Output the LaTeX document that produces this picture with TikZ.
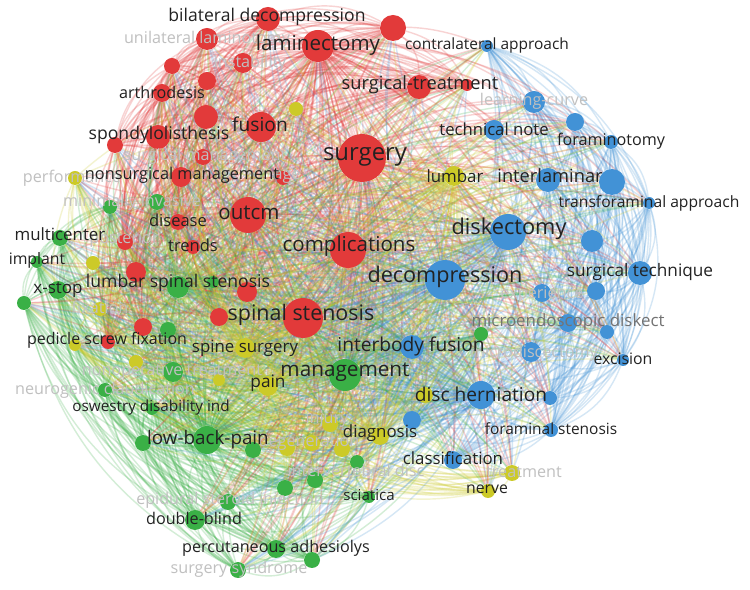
\documentclass[tikz,border=0pt]{standalone}
\usepackage{fontspec}
\newfontfamily\vosfont{Open Sans}
\usetikzlibrary{backgrounds,calc}
\definecolor{vosRed}{RGB}{226,58,58}
\definecolor{vosBlue}{RGB}{66,146,214}
\definecolor{vosGreen}{RGB}{58,176,70}
\definecolor{vosYellow}{RGB}{204,202,40}
\definecolor{vosText}{RGB}{34,34,34}
\definecolor{vosFaint}{RGB}{192,192,192}
\definecolor{vosMid}{RGB}{115,115,115}
\tikzset{
    dot/.style={circle, inner sep=0pt, draw=none},
    rdot/.style={dot, fill=vosRed, minimum size=#1*0.4mm},
    bdot/.style={dot, fill=vosBlue, minimum size=#1*0.4mm},
    gdot/.style={dot, fill=vosGreen, minimum size=#1*0.4mm},
    ydot/.style={dot, fill=vosYellow, minimum size=#1*0.4mm},
    kw/.style={font=\vosfont\fontsize{#1pt}{#1pt}\selectfont, text=vosText, inner sep=0pt},
    kw/.default=9.4,
    faint/.style={kw=#1, text=vosFaint},
    faint/.default=9.2,
    link/.style={line width=0.8pt, opacity=0.22},
    rlink/.style={link, draw=vosRed},
    blink/.style={link, draw=vosBlue},
    glink/.style={link, draw=vosGreen},
    ylink/.style={link, draw=vosYellow}
}
% curved link inside a cluster, bulging away from the map centre
\newcommand\vlink[3]{%
  \draw[#1] let \p1=(#2.center), \p2=(#3.center), \p3=(ctr),
    \n1={ifthenelse(((\x1-\x3)/100)*((\y2-\y3)/100)-((\y1-\y3)/100)*((\x2-\x3)/100)>0,-24,24)}
    in (#2) to[bend left=\n1] (#3);}
% curved link between clusters
\newcommand\xlink[3]{\draw[#1] (#2) to[bend left=20] (#3);}
% keyword clusters
\newcommand\redset{surgery,laminectomy,bilatdec,unilat,r1,instab,r2,arthrodesis,r3,fusion,spondylo,r4,surgmgmt,nonsurg,age,r5,surgtreat,r6,outcm,disease,posterior,trends,complications,r7,r8,spinalstenosis,r9,r10,pedicle}
\newcommand\blueset{diskectomy,decompression,contralat,learning,b1,technote,foraminotomy,interlaminar,b2,transforaminal,b3,surgtech,b4,experience,microendo,b5,interbody,microdisc,excision,discherniation,b6,b7,foraminal,classification}
\newcommand\greenset{management,minimally,g1,multicenter,implant,lss,g2,xstop,g3,g4,nonop,neurogenic,oswestry,lbp,g5,g6,intervert,g8,g9,sciatica,epidural,doubleblind,percutaneous,g10,surgsyn,g11}
\newcommand\yellowset{lumbar,y1,performance,y2,fixation,y3,spinesurgery,y4,y5,pain,injury,y6,degeneration,y7,diagnosis,y8,treatment,nerve}
\begin{document}
\begin{tikzpicture}[x=0.02cm, y=-0.02cm]
  \useasboundingbox (0,0) rectangle (750,590);
  \coordinate (ctr) at (370,290);

  % Red cluster
  \node[rdot=24] (surgery) at (362,158) {};
  \node[rdot=16] (laminectomy) at (318,46) {};
  \node[rdot=12] (bilatdec) at (268,19) {};
  \node[rdot=11] (unilat) at (207,39) {};
  \node[rdot=8] (r1) at (172,66) {};
  \node[rdot=10] (instab) at (243,63) {};
  \node[rdot=9] (r2) at (207,81) {};
  \node[rdot=9] (arthrodesis) at (162,93) {};
  \node[rdot=12] (r3) at (206,117) {};
  \node[rdot=15] (fusion) at (261,127) {};
  \node[rdot=12] (spondylo) at (158,137) {};
  \node[rdot=8] (r4) at (115,145) {};
  \node[rdot=8] (surgmgmt) at (203,157) {};
  \node[rdot=10] (nonsurg) at (181,177) {};
  \node[rdot=7] (age) at (283,178) {};
  \node[rdot=13] (r5) at (393,28) {};
  \node[rdot=12] (surgtreat) at (419,87) {};
  \node[rdot=6] (r6) at (467,85) {};
  \node[rdot=18] (outcm) at (248,215) {};
  \node[rdot=8] (disease) at (178,222) {};
  \node[rdot=8] (posterior) at (125,242) {};
  \node[rdot=7] (trends) at (193,247) {};
  \node[rdot=18] (complications) at (348,250) {};
  \node[rdot=10] (r7) at (136,272) {};
  \node[rdot=10] (r8) at (247,292) {};
  \node[rdot=20] (spinalstenosis) at (303,318) {};
  \node[rdot=9] (r9) at (219,317) {};
  \node[rdot=9] (r10) at (143,327) {};
  \node[rdot=7] (pedicle) at (108,342) {};

  % Blue cluster
  \node[bdot=18] (diskectomy) at (508,232) {};
  \node[bdot=20] (decompression) at (445,280) {};
  \node[bdot=6] (contralat) at (487,46) {};
  \node[bdot=11] (learning) at (534,102) {};
  \node[bdot=9] (b1) at (575,122) {};
  \node[bdot=10] (technote) at (494,130) {};
  \node[bdot=7] (foraminotomy) at (611,142) {};
  \node[bdot=12] (interlaminar) at (548,180) {};
  \node[bdot=13] (b2) at (612,182) {};
  \node[bdot=6] (transforaminal) at (649,203) {};
  \node[bdot=11] (b3) at (592,241) {};
  \node[bdot=12] (surgtech) at (640,273) {};
  \node[bdot=9] (b4) at (596,291) {};
  \node[bdot=9] (experience) at (542,293) {};
  \node[bdot=9] (microendo) at (568,323) {};
  \node[bdot=7] (b5) at (607,332) {};
  \node[bdot=12] (interbody) at (412,347) {};
  \node[bdot=10] (microdisc) at (531,352) {};
  \node[bdot=6] (excision) at (623,360) {};
  \node[bdot=14] (discherniation) at (481,395) {};
  \node[bdot=7] (b6) at (550,398) {};
  \node[bdot=9] (b7) at (412,420) {};
  \node[bdot=7] (foraminal) at (551,430) {};
  \node[bdot=9] (classification) at (453,460) {};

  % Green cluster
  \node[gdot=16] (management) at (345,375) {};
  \node[gdot=7] (minimally) at (110,207) {};
  \node[gdot=8] (g1) at (157,202) {};
  \node[gdot=8] (multicenter) at (60,238) {};
  \node[gdot=6] (implant) at (37,262) {};
  \node[gdot=11] (lss) at (178,287) {};
  \node[gdot=6] (g2) at (213,282) {};
  \node[gdot=9] (xstop) at (58,290) {};
  \node[gdot=7] (g3) at (24,303) {};
  \node[gdot=8] (g4) at (168,330) {};
  \node[gdot=10] (nonop) at (173,372) {};
  \node[gdot=7] (neurogenic) at (105,390) {};
  \node[gdot=6] (oswestry) at (152,409) {};
  \node[gdot=14] (lbp) at (207,440) {};
  \node[gdot=8] (g5) at (143,443) {};
  \node[gdot=8] (g6) at (253,450) {};
  \node[gdot=7] (intervert) at (357,462) {};
  \node[gdot=8] (g8) at (315,480) {};
  \node[gdot=8] (g9) at (285,488) {};
  \node[gdot=6] (sciatica) at (369,497) {};
  \node[gdot=8] (epidural) at (228,502) {};
  \node[gdot=10] (doubleblind) at (195,520) {};
  \node[gdot=9] (percutaneous) at (276,549) {};
  \node[gdot=8] (g10) at (312,560) {};
  \node[gdot=8] (surgsyn) at (238,570) {};
  \node[gdot=7] (g11) at (481,334) {};

  % Yellow cluster
  \node[ydot=10] (lumbar) at (454,176) {};
  \node[ydot=7] (y1) at (296,109) {};
  \node[ydot=7] (performance) at (75,178) {};
  \node[ydot=7] (y2) at (93,263) {};
  \node[ydot=7] (fixation) at (100,309) {};
  \node[ydot=6] (y3) at (75,345) {};
  \node[ydot=10] (spinesurgery) at (245,348) {};
  \node[ydot=7] (y4) at (136,362) {};
  \node[ydot=6] (y5) at (219,380) {};
  \node[ydot=10] (pain) at (268,386) {};
  \node[ydot=8] (injury) at (330,424) {};
  \node[ydot=8] (y6) at (287,448) {};
  \node[ydot=8] (degeneration) at (312,443) {};
  \node[ydot=8] (y7) at (342,449) {};
  \node[ydot=9] (diagnosis) at (380,436) {};
  \node[ydot=8] (y8) at (425,395) {};
  \node[ydot=8] (treatment) at (512,473) {};
  \node[ydot=7] (nerve) at (488,491) {};

  % Links
  \begin{scope}[on background layer]
    \fill[white] (0,0) rectangle (750,590);
    \foreach \a [count=\i] in \redset {
      \foreach \b [count=\j] in \redset {
        \ifnum\j>\i \vlink{rlink}{\a}{\b} \fi
      }
    }
    \foreach \a [count=\i] in \blueset {
      \foreach \b [count=\j] in \blueset {
        \ifnum\j>\i \vlink{blink}{\a}{\b} \fi
      }
    }
    \foreach \a [count=\i] in \greenset {
      \foreach \b [count=\j] in \greenset {
        \ifnum\j>\i \vlink{glink}{\a}{\b} \fi
      }
    }
    \foreach \a [count=\i] in \yellowset {
      \foreach \b [count=\j] in \yellowset {
        \ifnum\j>\i \vlink{ylink}{\a}{\b} \fi
      }
    }
    \foreach \h in {surgery,spinalstenosis,complications,outcm,laminectomy} {
      \foreach \b in \blueset {\xlink{rlink}{\h}{\b}}
      \foreach \b in \greenset {\xlink{rlink}{\h}{\b}}
      \foreach \b in \yellowset {\xlink{rlink}{\h}{\b}}
    }
    \foreach \h in {decompression,diskectomy,discherniation,interbody} {
      \foreach \b in \redset {\xlink{blink}{\h}{\b}}
      \foreach \b in \greenset {\xlink{blink}{\h}{\b}}
      \foreach \b in \yellowset {\xlink{blink}{\h}{\b}}
    }
    \foreach \h in {management,lbp,lss} {
      \foreach \b in \redset {\xlink{glink}{\h}{\b}}
      \foreach \b in \blueset {\xlink{glink}{\h}{\b}}
      \foreach \b in \yellowset {\xlink{glink}{\h}{\b}}
    }
    \foreach \h in {pain,lumbar,spinesurgery,diagnosis} {
      \foreach \b in \redset {\xlink{ylink}{\h}{\b}}
      \foreach \b in \blueset {\xlink{ylink}{\h}{\b}}
      \foreach \b in \greenset {\xlink{ylink}{\h}{\b}}
    }
  \end{scope}

  % Faint labels
  \node[faint] (unilatT) at (207,39) {unilateral laminotomy};
  \node[faint] (instabT) at (250,63) {instability};
  \node[faint] (surgmgmtT) at (205,156) {surgical management};
  \node[faint] (ageT) at (287,177) {age};
  \node[faint] (performanceT) at (72,178) {performance};
  \node[faint] (minimallyT) at (132,202) {minimally invasive};
  \node[faint] (posteriorT) at (124,240) {posterior};
  \node[faint] (fixationT) at (100,307) {fixation};
  \node[faint] (nonopT) at (172,372) {nonoperative treatment};
  \node[faint] (neurogenicT) at (105,390) {neurogenic claudication};
  \node[faint] (injuryT) at (327,420) {injury};
  \node[faint] (degenerationT) at (309,442) {degeneration};
  \node[faint] (intervertT) at (356,470) {intervertebral disc};
  \node[faint] (epiduralT) at (230,500) {epidural steroid injection};
  \node[faint] (surgsynT) at (239,569) {surgery syndrome};
  \node[faint] (learningT) at (534,101) {learning-curve};
  \node[faint] (experienceT) at (542,295) {experience};
  \node[faint] (microdiscT) at (534,353) {microdiscectomy};
  \node[faint] (treatmentT) at (524,472) {treatment};

  % Labels
  \node[kw=13.6] (surgeryT) at (365,157) {surgery};
  \node[kw=11.7] (laminectomyT) at (318,45) {laminectomy};
  \node[kw=10] (bilatdecT) at (267,17) {bilateral decompression};
  \node[kw=9.2] (arthrodesisT) at (162,92) {arthrodesis};
  \node[kw=10.9] (fusionT) at (260,124) {fusion};
  \node[kw=10] (spondyloT) at (159,135) {spondylolisthesis};
  \node[kw=9.3] (nonsurgT) at (182,175) {nonsurgical management};
  \node[kw=10.4] (surgtreatT) at (420,85) {surgical-treatment};
  \node[kw=11.7] (outcmT) at (249,213) {outcm};
  \node[kw=9.4] (diseaseT) at (178,220) {disease};
  \node[kw=9.4] (trendsT) at (193,245) {trends};
  \node[kw=11.7] (complicationsT) at (349,246) {complications};
  \node[kw=12.2] (spinalstenosisT) at (301,315) {spinal stenosis};
  \node[kw=9.1] (pedicleT) at (107,340) {pedicle screw fixation};

  \node[kw=12.4] (diskectomyT) at (509,229) {diskectomy};
  \node[kw=12.3] (decompressionT) at (445,277) {decompression};
  \node[kw=8.8] (contralatT) at (487,45) {contralateral approach};
  \node[kw=9.5] (technoteT) at (494,129) {technical note};
  \node[kw=9.2] (foraminotomyT) at (611,141) {foraminotomy};
  \node[kw=10.4] (interlaminarT) at (550,176) {interlaminar};
  \node[kw=8.9] (transforaminalT) at (649,203) {transforaminal approach};
  \node[kw=9.8] (surgtechT) at (640,272) {surgical technique};
  \node[kw=9.6, text=vosMid] (microendoT) at (568,322) {microendoscopic diskect};
  \node[kw=10.9] (interbodyT) at (411,346) {interbody fusion};
  \node[kw=9] (excisionT) at (623,359) {excision};
  \node[kw=10.9] (discherniationT) at (481,394) {disc herniation};
  \node[kw=8.8] (foraminalT) at (551,429) {foraminal stenosis};
  \node[kw=9.6] (classificationT) at (453,458) {classification};

  \node[kw=11.8] (managementT) at (345,372) {management};
  \node[kw=9.6] (multicenterT) at (60,234) {multicenter};
  \node[kw=9] (implantT) at (37,260) {implant};
  \node[kw=10] (lssT) at (178,283) {lumbar spinal stenosis};
  \node[kw=9.7] (xstopT) at (58,290) {x-stop};
  \node[kw=8.7] (oswestryT) at (151,408) {oswestry disability ind};
  \node[kw=10.7] (lbpT) at (208,440) {low-back-pain};
  \node[kw=8.6] (sciaticaT) at (369,495) {sciatica};
  \node[kw=9.2] (doubleblindT) at (194,518) {double-blind};
  \node[kw=9.2] (percutaneousT) at (276,548) {percutaneous adhesiolys};

  \node[kw=9.6] (lumbarT) at (455,176) {lumbar};
  \node[kw=9.6] (spinesurgeryT) at (245,348) {spine surgery};
  \node[kw=9.8] (painT) at (268,383) {pain};
  \node[kw=9.6] (diagnosisT) at (380,433) {diagnosis};
  \node[kw=9] (nerveT) at (487,489) {nerve};
\end{tikzpicture}
\end{document}
